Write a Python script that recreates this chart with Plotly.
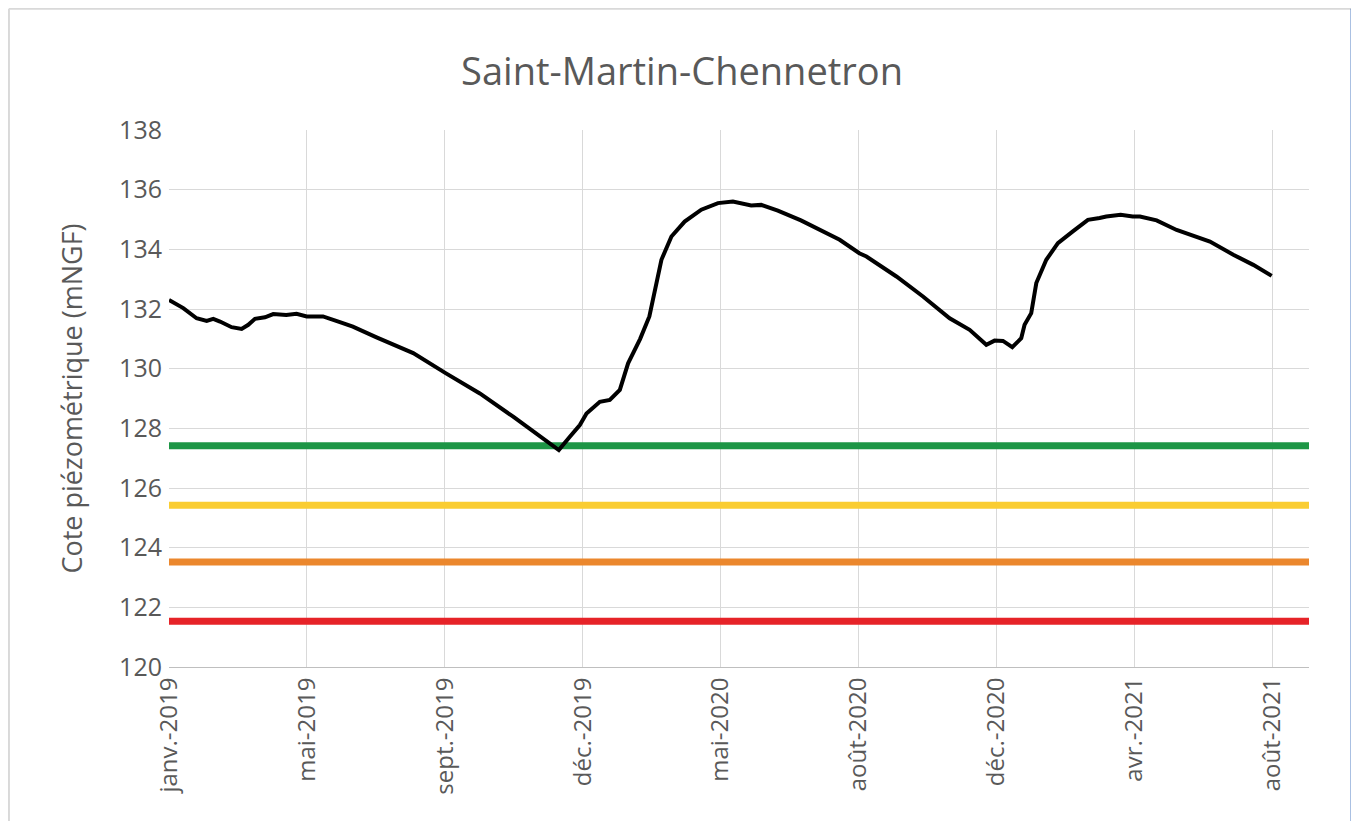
import pandas as pd
import plotly.graph_objects as go

# Days since 2019-01-01 and piezometric level (mNGF)
days = [0, 12.4, 24, 32.8, 38.5, 44.4, 54.5, 63.2, 69, 74.8, 83.5, 90.7, 102, 111,
        119.8, 134, 148.7, 160, 180.6, 199.5, 212.5, 240.7, 270.5, 299.5, 325.6,
        339.2, 348.8, 357.5, 363.3, 374.9, 383.6, 392.3, 399.5, 410, 418, 424.2,
        428.5, 437.2, 448.7, 463.2, 477.7, 490.7, 506.6, 515.3, 529.8, 549.9,
        573.2, 583.6, 600.7, 606.9, 633, 656.1, 679.3, 696.7, 711.2, 718.4, 725.7,
        733.8, 741.6, 744.5, 750.3, 754.7, 763.4, 773.5, 786.5, 799.6, 809.8,
        815.6, 828.1, 838.6, 844.9, 859.4, 876.8, 897, 905.8, 926.1, 943.5, 959.5]
levels = [132.30, 132.03, 131.69, 131.60, 131.67, 131.58, 131.39, 131.33, 131.47,
          131.67, 131.72, 131.83, 131.80, 131.84, 131.75, 131.75, 131.56, 131.41,
          131.05, 130.72, 130.52, 129.85, 129.17, 128.39, 127.66, 127.27, 127.72,
          128.11, 128.50, 128.89, 128.95, 129.29, 130.18, 131.00, 131.75, 132.87,
          133.65, 134.43, 134.93, 135.33, 135.55, 135.60, 135.47, 135.49, 135.30,
          134.97, 134.54, 134.32, 133.87, 133.76, 133.09, 132.42, 131.69, 131.30,
          130.80, 130.94, 130.93, 130.72, 131.02, 131.47, 131.86, 132.87, 133.65,
          134.21, 134.60, 134.99, 135.05, 135.10, 135.16, 135.10, 135.10, 134.97,
          134.65, 134.38, 134.26, 133.82, 133.48, 133.11]

# Threshold levels (mNGF)
threshold_values = [127.42, 125.42, 123.52, 121.53]
threshold_colors = ["#1E9646", "#FACD32", "#EB872D", "#E62328"]

# Tick positions (days since start) and labels
tick_days = [0, 120, 240, 360, 480, 600, 720, 840, 960]
tick_labels = ["janv.-2019", "mai-2019", "sept.-2019", "déc.-2019", "mai-2020",
               "août-2020", "déc.-2020", "avr.-2021", "août-2021"]

start = pd.Timestamp("2019-01-01")
x_end_days = 992
dates = start + pd.to_timedelta(days, unit="D")
tick_dates = start + pd.to_timedelta(tick_days, unit="D")
x_range = [start, start + pd.Timedelta(days=x_end_days)]

fig = go.Figure()
for v, c in zip(threshold_values, threshold_colors):
    fig.add_trace(go.Scatter(x=x_range, y=[v, v], mode="lines",
                             line=dict(color=c, width=7), hoverinfo="skip",
                             showlegend=False))
fig.add_trace(go.Scatter(x=dates, y=levels, mode="lines",
                         line=dict(color="#000000", width=4), showlegend=False))

font_family = "Open Sans, Lato, sans-serif"
grey_text = "#595959"

fig.update_layout(
    width=1359, height=821,
    margin=dict(l=161, r=58, t=122, b=162),
    paper_bgcolor="white", plot_bgcolor="white",
    title=dict(text="Saint-Martin-Chennetron", x=0.496, xanchor="center",
               y=0.922, yanchor="middle",
               font=dict(family=font_family, size=38, color=grey_text)),
    font=dict(family=font_family, color=grey_text),
    xaxis=dict(type="date", range=x_range, tickmode="array",
               tickvals=tick_dates, ticktext=tick_labels, tickangle=-90,
               tickfont=dict(size=24, color=grey_text),
               showgrid=True, gridcolor="#D9D9D9", gridwidth=1,
               showline=True, linecolor="#BFBFBF", linewidth=1,
               ticks="", zeroline=False),
    yaxis=dict(range=[120, 138], dtick=2, tickmode="linear",
               tickfont=dict(size=25, color=grey_text), ticklabelstandoff=6,
               showgrid=True, gridcolor="#D9D9D9", gridwidth=1,
               showline=False, ticks="", zeroline=False,
               title=dict(text="Cote piézométrique (mNGF)", standoff=28,
                          font=dict(size=27, color=grey_text))),
    shapes=[
        dict(type="line", xref="paper", yref="paper", x0=-0.1404, x1=1.0373,
             y0=1.226, y1=1.226, line=dict(color="#D9D9D9", width=2)),
        dict(type="line", xref="paper", yref="paper", x0=-0.1404, x1=-0.1404,
             y0=1.226, y1=-0.3, line=dict(color="#D9D9D9", width=2)),
        dict(type="line", xref="paper", yref="paper", x0=1.0373, x1=1.0373,
             y0=1.226, y1=-0.3, line=dict(color="#4F7CC4", width=2)),
    ],
)

fig.write_html("out.html")
